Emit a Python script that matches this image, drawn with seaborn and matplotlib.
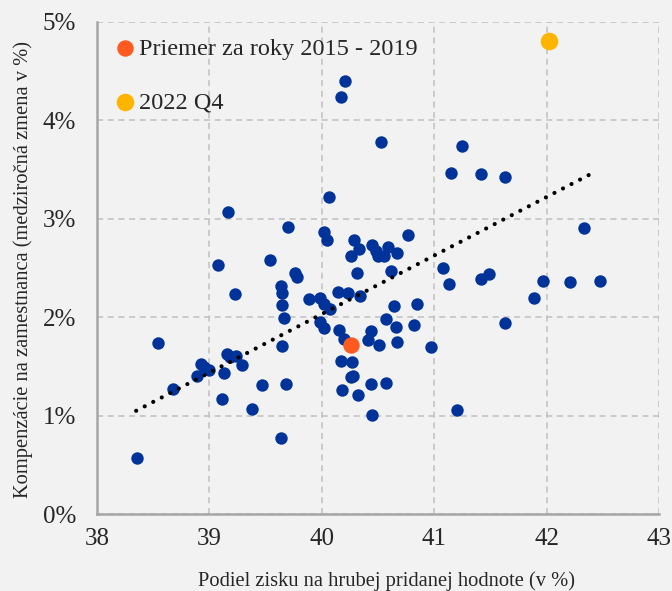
import pandas as pd
import numpy as np
import matplotlib
matplotlib.use("Agg")
import matplotlib.pyplot as plt
import seaborn as sns

# countries / quarters: profit share (x) vs compensation growth (y)
profit_share = [39.17, 39.70, 40.06, 40.02, 40.05, 39.08, 39.54, 39.76, 39.78, 39.64,
                39.65, 39.23, 39.89, 39.98, 40.21, 40.17, 40.53, 41.25, 41.15, 41.42,
                41.63, 42.33, 40.77, 40.29, 40.33, 40.26, 40.45, 40.48, 40.50, 40.55,
                40.59, 40.67, 40.31, 40.62, 41.08, 41.13, 41.42, 41.49, 41.97, 42.21,
                42.47, 41.89, 40.14, 40.23, 40.34, 41.63, 40.64, 40.85, 40.57, 40.66,
                40.82, 40.44, 40.41, 40.51, 40.67, 40.97, 40.15, 40.20, 40.17, 40.27,
                40.26, 40.28, 40.18, 40.32, 40.44, 40.57, 40.45, 41.20, 40.02, 40.07,
                39.65, 39.66, 39.65, 39.98, 40.02, 38.54, 38.93, 38.95, 39.00, 38.89,
                38.68, 39.16, 39.18, 39.24, 39.29, 39.13, 39.11, 39.38, 39.47, 39.68,
                39.64, 38.36]
comp_growth = [3.07, 2.92, 3.22, 2.87, 2.78, 2.53, 2.58, 2.45, 2.41, 2.32,
               2.25, 2.24, 2.19, 2.20, 4.40, 4.24, 3.78, 3.74, 3.47, 3.45,
               3.42, 2.91, 2.84, 2.78, 2.69, 2.62, 2.73, 2.67, 2.62, 2.62,
               2.71, 2.65, 2.45, 2.47, 2.50, 2.34, 2.39, 2.44, 2.37, 2.36,
               2.37, 2.20, 2.26, 2.25, 2.22, 1.94, 2.11, 2.13, 1.98, 1.90,
               1.92, 1.86, 1.77, 1.72, 1.75, 1.70, 1.87, 1.78, 1.56, 1.55,
               1.39, 1.40, 1.26, 1.21, 1.32, 1.33, 1.01, 1.06, 2.13, 2.08,
               2.12, 1.99, 1.71, 1.95, 1.89, 1.74, 1.53, 1.49, 1.46, 1.40,
               1.27, 1.63, 1.60, 1.61, 1.51, 1.43, 1.17, 1.07, 1.31, 1.32,
               0.77, 0.57]

avg_x, avg_y = [40.26], [1.72]      # Priemer za roky 2015 - 2019
q4_x, q4_y = [42.02], [4.81]        # 2022 Q4
trend_x = [38.35, 42.40]
trend_y = [1.05, 3.46]

df = pd.DataFrame({"x": profit_share, "y": comp_growth})

sns.set_style("whitegrid")
plt.rcParams["font.family"] = ["Liberation Serif", "DejaVu Serif"]
bg = "#f2f2f2"

fig = plt.figure(figsize=(6.72, 5.91), dpi=100, facecolor=bg)
ax = fig.add_axes([0.144, 0.130, 0.837, 0.833])
ax.set_facecolor(bg)

sns.scatterplot(data=df, x="x", y="y", color="#003399", s=80, linewidth=0, ax=ax, zorder=3)
sns.lineplot(x=trend_x, y=trend_y, color="black", ax=ax, zorder=4,
             linewidth=3, linestyle=(0, (0.01, 2.3)), dash_capstyle="round")
sns.scatterplot(x=avg_x, y=avg_y, color="#ff5a1f", s=140, linewidth=0, ax=ax, zorder=5,
                label="Priemer za roky 2015 - 2019")
sns.scatterplot(x=q4_x, y=q4_y, color="#ffb400", s=160, linewidth=0, ax=ax, zorder=5,
                label="2022 Q4")

ax.set_xlim(38, 43)
ax.set_ylim(0, 5)
ax.set_xticks(range(38, 44))
ax.set_yticks(range(0, 6))
ax.set_yticklabels([f"{v}%" for v in range(0, 6)])
ax.tick_params(axis="y", length=0, labelsize=18, pad=15)
ax.tick_params(axis="x", length=0, labelsize=18, pad=10)
ax.grid(True, color="#c0c0c0", linestyle=(0, (4, 3)), linewidth=1.1)
for s in ["top", "right"]:
    ax.spines[s].set_visible(False)
for s in ["left", "bottom"]:
    ax.spines[s].set_color("#a6a6a6")
    ax.spines[s].set_linewidth(1.8)

plt.xlabel("Podiel zisku na hrubej pridanej hodnote (v %)", fontsize=14.8)
plt.ylabel("Kompenzácie na zamestnanca (medziročná zmena v %)", fontsize=14.8)
ax.xaxis.set_label_coords(0.515, -0.115)
ax.yaxis.set_label_coords(-0.114, 0.496)

leg = ax.legend(loc="upper left", frameon=False, fontsize=17.5, handletextpad=0.1,
                handlelength=1.0, labelspacing=1.3, borderaxespad=0.25,
                borderpad=0.4, markerscale=1.0)

plt.savefig("out.png", dpi=100, facecolor=bg)
